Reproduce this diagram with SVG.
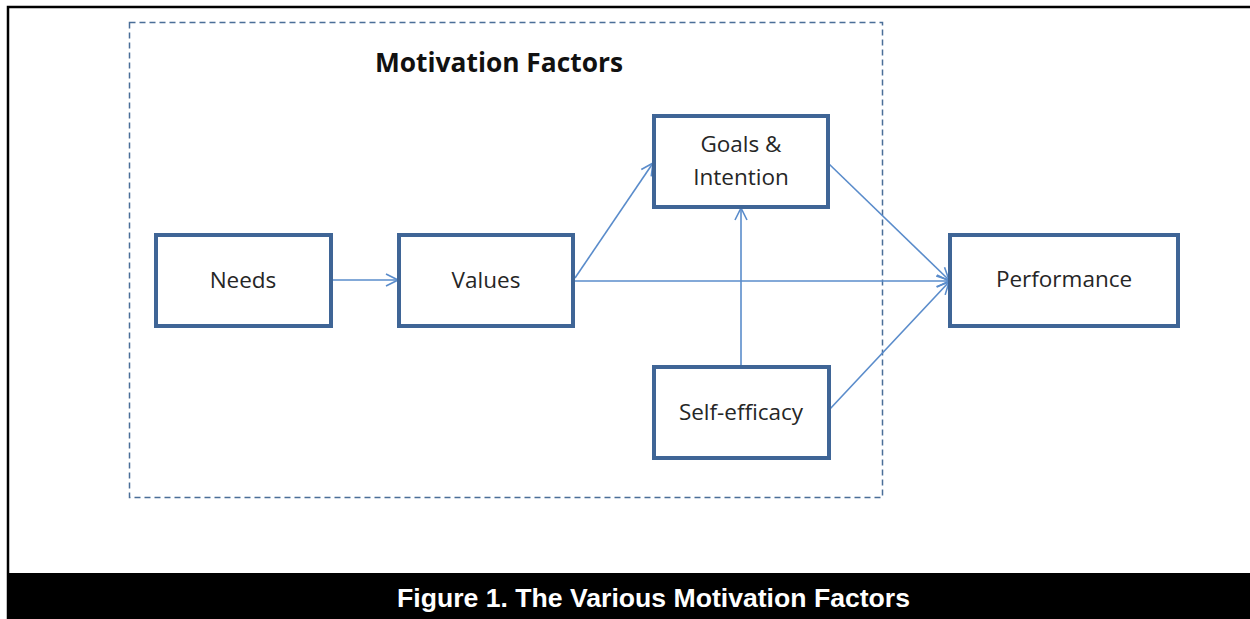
<svg xmlns="http://www.w3.org/2000/svg" width="1250" height="619" viewBox="0 0 1250 619">
<style>
.node rect{fill:#fff;stroke:#3f6596;stroke-width:4}
.node text{font-family:"Open Sans","Liberation Sans",sans-serif;font-size:22.5px;fill:#262626;text-anchor:middle}
.conn line{stroke:#5a8ccb;stroke-width:1.6;fill:none}
</style>
<defs>
<marker id="arr" viewBox="0 0 14 14" refX="13" refY="7" markerWidth="14" markerHeight="14" markerUnits="userSpaceOnUse" orient="auto">
<path d="M1,1 L13,7 L1,13" fill="none" stroke="#5a8ccb" stroke-width="1.6"/>
</marker>
</defs>
<rect x="0" y="0" width="1250" height="619" fill="#fff"/>
<rect x="8" y="7" width="1250" height="620" fill="none" stroke="#000" stroke-width="2.5"/>
<rect x="129.5" y="22.5" width="753" height="475" fill="none" stroke="#4a6e98" stroke-width="1.5" stroke-dasharray="6,4"/>
<text x="375" y="72" font-family="Open Sans,Liberation Sans,sans-serif" font-weight="bold" font-size="26.5" fill="#111" textLength="248" lengthAdjust="spacingAndGlyphs">Motivation Factors</text>
<g class="conn">
<line x1="332" y1="280" x2="398" y2="280" marker-end="url(#arr)"/>
<line x1="575" y1="278" x2="653" y2="163" marker-end="url(#arr)"/>
<line x1="575" y1="281" x2="949" y2="281" marker-end="url(#arr)"/>
<line x1="828" y1="163" x2="949" y2="280" marker-end="url(#arr)"/>
<line x1="741" y1="366" x2="741" y2="208" marker-end="url(#arr)"/>
<line x1="829" y1="410" x2="949" y2="282" marker-end="url(#arr)"/>
</g>
<g id="needs" class="node"><rect x="156" y="235" width="175" height="91"/><text x="243" y="288">Needs</text></g>
<g id="values" class="node"><rect x="399" y="235" width="174" height="91"/><text x="486" y="288">Values</text></g>
<g id="goals" class="node"><rect x="654" y="116" width="174" height="91"/><text x="741" y="152">Goals &amp;</text><text x="741" y="185">Intention</text></g>
<g id="selfefficacy" class="node"><rect x="654" y="367" width="175" height="91"/><text x="741" y="420">Self-efficacy</text></g>
<g id="performance" class="node"><rect x="950" y="235" width="228" height="91"/><text x="1064" y="287">Performance</text></g>
<rect x="8" y="573" width="1242" height="46" fill="#000"/>
<text x="653.5" y="607" font-family="Liberation Sans,Arial,sans-serif" font-weight="bold" font-size="26" fill="#fff" text-anchor="middle" textLength="513" lengthAdjust="spacingAndGlyphs">Figure 1. The Various Motivation Factors</text>
</svg>
